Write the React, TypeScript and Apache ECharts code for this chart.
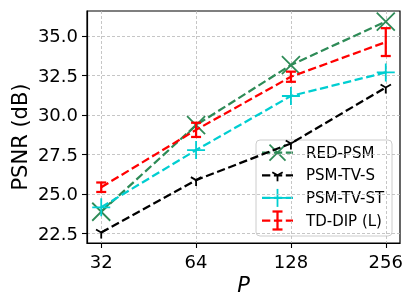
import React, { useEffect, useRef } from "react";
import * as echarts from "echarts";

const P = [32, 64, 128, 256];
const redPsm = [23.87, 29.35, 33.15, 35.9];
const psmTvS = [22.56, 25.87, 28.19, 31.73];
const psmTvSt = [24.15, 27.77, 31.19, 32.68];
const tdDip = [25.42, 29.05, 32.41, 34.6];
const tdDipErr = [0.3, 0.45, 0.32, 0.88];
const yTicks = [22.5, 25, 27.5, 30, 32.5, 35];
const names = ["RED-PSM", "PSM-TV-S", "PSM-TV-ST", "TD-DIP (L)"];
const colors = ["#2e8b57", "#000000", "#00ced1", "#ff0000"];

const FONT = "DejaVu Sans";
const LW = 2.25;
const DASH = [8.3, 3.6];
const MW = 1.8;

const X_PATH = "path://M0 0 L20 20 M20 0 L0 20";
const PLUS_PATH = "path://M10 0 L10 20 M0 10 L20 10";
const TRI_PATH =
  "path://M10 10 L10 20 M10 10 L1.34 5 M10 10 L18.66 5 M0 0 L0.001 0 M20 20 L19.999 20";

const lx = (p: number) => Math.log2(p);
const xTicks = P.map(lx);

function legendGraphic() {
  const x0 = 256, y0 = 140, w = 136, h = 96;
  const children: any[] = [
    {
      type: "rect",
      shape: { x: x0, y: y0, width: w, height: h, r: 4 },
      style: { fill: "rgba(255,255,255,0.8)", stroke: "#cccccc", lineWidth: 1 },
    },
  ];
  const lx1 = 262, lx2 = 293, cx = (lx1 + lx2) / 2;
  names.forEach((n, i) => {
    const yc = 152.7 + i * 22.6;
    const c = colors[i];
    children.push({
      type: "line",
      shape: { x1: lx1, y1: yc, x2: lx2, y2: yc },
      style: { stroke: c, lineWidth: LW, lineDash: DASH },
    });
    const ms = { stroke: c, lineWidth: MW };
    if (i === 0) {
      const r = 8;
      children.push({ type: "line", shape: { x1: cx - r, y1: yc - r, x2: cx + r, y2: yc + r }, style: ms });
      children.push({ type: "line", shape: { x1: cx + r, y1: yc - r, x2: cx - r, y2: yc + r }, style: ms });
    } else if (i === 1) {
      const r = 6;
      children.push({ type: "line", shape: { x1: cx, y1: yc, x2: cx, y2: yc + r }, style: ms });
      children.push({ type: "line", shape: { x1: cx, y1: yc, x2: cx - r * 0.866, y2: yc - r / 2 }, style: ms });
      children.push({ type: "line", shape: { x1: cx, y1: yc, x2: cx + r * 0.866, y2: yc - r / 2 }, style: ms });
    } else if (i === 2) {
      const r = 9;
      children.push({ type: "line", shape: { x1: cx - r, y1: yc, x2: cx + r, y2: yc }, style: ms });
      children.push({ type: "line", shape: { x1: cx, y1: yc - r, x2: cx, y2: yc + r }, style: ms });
    } else {
      const hh = 9, hw = 5;
      const es = { stroke: c, lineWidth: LW };
      children.push({ type: "line", shape: { x1: cx, y1: yc - hh, x2: cx, y2: yc + hh }, style: es });
      children.push({ type: "line", shape: { x1: cx - hw, y1: yc - hh, x2: cx + hw, y2: yc - hh }, style: es });
      children.push({ type: "line", shape: { x1: cx - hw, y1: yc + hh, x2: cx + hw, y2: yc + hh }, style: es });
    }
    children.push({
      type: "text",
      x: 306,
      y: yc,
      style: { text: n, fill: "#000", font: `15px "${FONT}"`, textVerticalAlign: "middle", verticalAlign: "middle" },
    });
  });
  return { type: "group", z: 100, children };
}

export default function App() {
  const ref = useRef<HTMLDivElement>(null);
  useEffect(() => {
    if (!ref.current) return;
    const chart = echarts.init(ref.current, null, { renderer: "svg" });
    const lineSeries = (name: string, vals: number[], color: string, symbol: string, size: number, z: number) => ({
      name,
      type: "line",
      data: vals.map((v, i) => [lx(P[i]), v]),
      symbol,
      symbolSize: size,
      showSymbol: symbol !== "none",
      lineStyle: { color, width: LW, type: DASH },
      itemStyle: { color: "none", borderColor: color, borderWidth: MW },
      emphasis: { disabled: true },
      silent: true,
      z,
    });
    chart.setOption({
      animation: false,
      textStyle: { fontFamily: FONT },
      grid: {
        left: 87,
        right: 15,
        top: 11,
        bottom: 65,
        show: true,
        borderColor: "#000",
        borderWidth: 1.2,
        backgroundColor: "transparent",
      },
      xAxis: {
        type: "value",
        min: 4.85,
        max: 8.15,
        name: "P",
        nameLocation: "middle",
        nameGap: 31,
        nameTextStyle: { fontStyle: "italic", fontSize: 21, color: "#000", fontFamily: FONT },
        axisLine: { show: true, onZero: false, lineStyle: { color: "#000", width: 1.2 } },
        axisTick: { show: true, customValues: xTicks, length: 5, lineStyle: { color: "#000", width: 1.1 } },
        axisLabel: {
          customValues: xTicks,
          formatter: (v: number) => String(Math.round(Math.pow(2, v))),
          fontSize: 18,
          color: "#000",
          margin: 9,
          fontFamily: FONT,
        },
        splitLine: { show: true, lineStyle: { color: "#b8b8b8", type: [3, 2], width: 0.8 } },
      },
      yAxis: {
        type: "value",
        min: 21.893,
        max: 36.567,
        axisLine: { show: true, onZero: false, lineStyle: { color: "#000", width: 1.2 } },
        axisTick: { show: true, customValues: yTicks, length: 5, lineStyle: { color: "#000", width: 1.1 } },
        axisLabel: {
          customValues: yTicks,
          formatter: (v: number) => v.toFixed(1),
          fontSize: 18,
          color: "#000",
          margin: 9,
          fontFamily: FONT,
        },
        splitLine: { show: true, lineStyle: { color: "#b8b8b8", type: [3, 2], width: 0.8 } },
      },
      series: [
        lineSeries(names[0], redPsm, colors[0], X_PATH, 18, 2),
        lineSeries(names[1], psmTvS, colors[1], TRI_PATH, 12, 3),
        lineSeries(names[2], psmTvSt, colors[2], PLUS_PATH, 18, 4),
        lineSeries(names[3], tdDip, colors[3], "none", 0, 5),
        {
          name: names[3] + " err",
          type: "custom",
          silent: true,
          z: 6,
          clip: false,
          data: tdDip.map((v, i) => [lx(P[i]), v - tdDipErr[i], v + tdDipErr[i]]),
          encode: { x: 0, y: [1, 2] },
          renderItem: (params: any, api: any) => {
            const x = api.value(0);
            const lo = api.coord([x, api.value(1)]);
            const hi = api.coord([x, api.value(2)]);
            const hw = 5;
            const style = { stroke: colors[3], lineWidth: LW, fill: "none" };
            return {
              type: "group",
              children: [
                { type: "line", shape: { x1: lo[0], y1: lo[1], x2: hi[0], y2: hi[1] }, style },
                { type: "line", shape: { x1: lo[0] - hw, y1: lo[1], x2: lo[0] + hw, y2: lo[1] }, style },
                { type: "line", shape: { x1: hi[0] - hw, y1: hi[1], x2: hi[0] + hw, y2: hi[1] }, style },
              ],
            };
          },
        },
      ],
      graphic: [
        {
          type: "text",
          x: 20,
          y: 137,
          rotation: Math.PI / 2,
          style: {
            text: "PSNR (dB)",
            fill: "#000",
            font: `21px "${FONT}"`,
            align: "center",
            verticalAlign: "middle",
          },
        },
        legendGraphic(),
      ],
    });
    return () => chart.dispose();
  }, []);
  return <div ref={ref} style={{ position: "fixed", left: 0, top: 0, width: 415, height: 308 }} />;
}
